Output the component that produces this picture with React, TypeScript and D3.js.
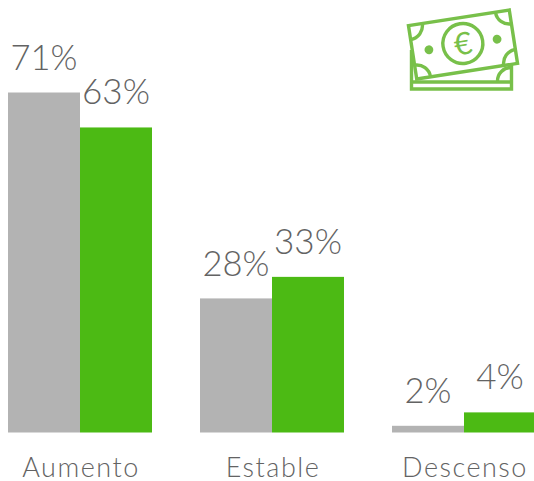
import React from "react";
import * as d3 from "d3";

const categories = ["Aumento", "Estable", "Descenso"];
const seriesA = [71, 28, 1.4];
const seriesB = [63.7, 32.5, 4.2];
const labelsA = ["71%", "28%", "2%"];
const labelsB = ["63%", "33%", "4%"];

const FONT = "Lato, 'Open Sans', sans-serif";
const GREY = "#b3b3b3";
const GREEN = "#4cba14";
const TEXT = "#636363";
const ICON = "#78c04a";

const W = 534;
const H = 481;

const x = d3.scaleBand<string>().domain(categories).range([8, 536]).paddingInner(0.25).paddingOuter(0);
const y = d3.scaleLinear().domain([0, 71]).range([432.5, 92.5]);

function MoneyIcon() {
  const w = 102;
  const h = 54;
  const r = 14;
  const corners = d3.path();
  corners.moveTo(-w / 2 + r, -h / 2);
  corners.arc(-w / 2, -h / 2, r, 0, Math.PI / 2);
  corners.moveTo(w / 2 - r, -h / 2);
  corners.arc(w / 2, -h / 2, r, Math.PI, Math.PI / 2, true);
  corners.moveTo(-w / 2 + r, h / 2);
  corners.arc(-w / 2, h / 2, r, 0, -Math.PI / 2, true);
  corners.moveTo(w / 2 - r, h / 2);
  corners.arc(w / 2, h / 2, r, Math.PI, -Math.PI / 2);
  const under = d3.path();
  under.moveTo(411.5, 50);
  under.lineTo(411.5, 89);
  under.lineTo(511.5, 89);
  under.lineTo(511.5, 65);
  under.moveTo(411.5, 82);
  under.lineTo(511.5, 82);
  under.moveTo(497, 81);
  under.arc(511, 81, 13.5, Math.PI, -Math.PI / 2);
  return (
    <g fill="none" stroke={ICON} strokeWidth={3.4}>
      <path d={under.toString()} />
      <g transform="translate(463,44.5) rotate(-8.8)">
        <rect x={-w / 2} y={-h / 2} width={w} height={h} fill="#fff" />
        <path d={corners.toString()} />
        <circle cx={0} cy={-1} r={20} />
        <circle cx={-34.5} cy={0} r={4.4} fill={ICON} stroke="none" />
        <circle cx={34.5} cy={0} r={4.4} fill={ICON} stroke="none" />
        <text
          x={0}
          y={10}
          textAnchor="middle"
          fontFamily={FONT}
          fontSize={31}
          fontWeight={400}
          fill={ICON}
          stroke="none"
        >
          €
        </text>
      </g>
    </g>
  );
}

export default function App() {
  const bw = x.bandwidth() / 2;
  return (
    <svg
      width={W}
      height={H}
      viewBox={`0 0 ${W} ${H}`}
      style={{ position: "absolute", left: 0, top: 0, background: "#fff" }}
    >
      {categories.map((c, i) => {
        const x0 = x(c)!;
        return (
          <g key={c}>
            <rect x={x0} y={y(seriesA[i])} width={bw} height={y(0) - y(seriesA[i])} fill={GREY} />
            <rect x={x0 + bw} y={y(seriesB[i])} width={bw} height={y(0) - y(seriesB[i])} fill={GREEN} />
            <text
              x={x0 + bw / 2}
              y={y(seriesA[i]) - 22.5}
              textAnchor="middle"
              fontFamily={FONT}
              fontWeight={300}
              fontSize={34.5}
              fill={TEXT}
            >
              {labelsA[i]}
            </text>
            <text
              x={x0 + bw * 1.5}
              y={y(seriesB[i]) - 23}
              textAnchor="middle"
              fontFamily={FONT}
              fontWeight={300}
              fontSize={35}
              fill={TEXT}
            >
              {labelsB[i]}
            </text>
            <text
              x={x0 + bw + 1}
              y={477}
              textAnchor="middle"
              fontFamily={FONT}
              fontWeight={300}
              fontSize={27}
              letterSpacing={1.5}
              fill={TEXT}
            >
              {c}
            </text>
          </g>
        );
      })}
      <MoneyIcon />
    </svg>
  );
}
